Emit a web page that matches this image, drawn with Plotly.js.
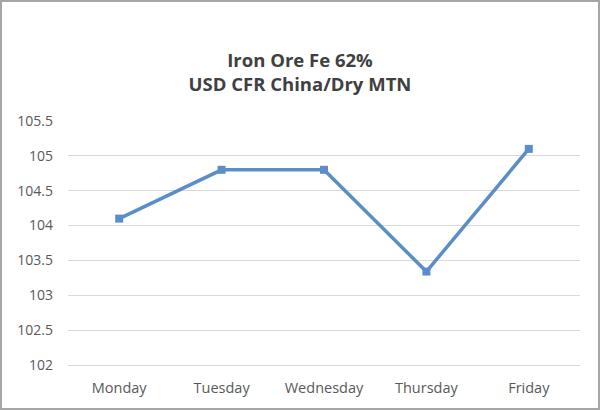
<!DOCTYPE html>
<html>
<head>
<meta charset="utf-8">
<script src="https://cdn.plot.ly/plotly-3.0.1.min.js"></script>
<style>
html,body{margin:0;padding:0;background:#fff;}
#wrap{position:relative;width:600px;height:410px;}
#chart{width:600px;height:410px;}
#frame{position:absolute;left:0;top:0;width:600px;height:410px;box-sizing:border-box;border:2px solid #a6a6a6;pointer-events:none;}
</style>
</head>
<body>
<div id="wrap"><div id="chart"></div><div id="frame"></div></div>
<script>
const days = ["Monday", "Tuesday", "Wednesday", "Thursday", "Friday"];
const prices = [104.1, 104.8, 104.8, 103.34, 105.1];
const yTicks = [102, 102.5, 103, 103.5, 104, 104.5, 105, 105.5];
const titleText = "Iron Ore Fe 62%<br>USD CFR China/Dry MTN";

const trace = {
  x: days,
  y: prices,
  type: "scatter",
  mode: "lines+markers",
  line: {color: "#5b8ec9", width: 3.5},
  marker: {symbol: "square", size: 8, color: "#5b8ec9"},
  hoverinfo: "x+y"
};

const layout = {
  width: 600,
  height: 410,
  margin: {l: 68, r: 20, t: 121, b: 45},
  paper_bgcolor: "#ffffff",
  plot_bgcolor: "#ffffff",
  showlegend: false,
  font: {family: "Open Sans, Liberation Sans, sans-serif", color: "#595959", size: 14},
  title: {
    text: titleText,
    x: 0.5, xanchor: "center",
    y: 1 - 67/410, yanchor: "middle",
    font: {family: "Open Sans, sans-serif", size: 18.5, color: "#404040", weight: "bold"}
  },
  xaxis: {
    type: "category",
    range: [-0.5, 4.5],
    showgrid: false,
    showline: true,
    linecolor: "#d9d9d9",
    linewidth: 1,
    ticks: "",
    ticklabelstandoff: 10,
    tickfont: {family: "Open Sans, sans-serif", size: 14.5, color: "#595959"},
    fixedrange: true
  },
  yaxis: {
    range: [102, 105.5],
    tickvals: yTicks,
    ticktext: yTicks.map(String),
    showgrid: true,
    gridcolor: "#d9d9d9",
    gridwidth: 1,
    zeroline: false,
    showline: false,
    ticks: "",
    ticklabelstandoff: 14,
    tickfont: {family: "Open Sans, sans-serif", size: 14, color: "#595959"},
    fixedrange: true
  }
};

Plotly.newPlot("chart", [trace], layout, {displayModeBar: false, staticPlot: true});
</script>
</body>
</html>
